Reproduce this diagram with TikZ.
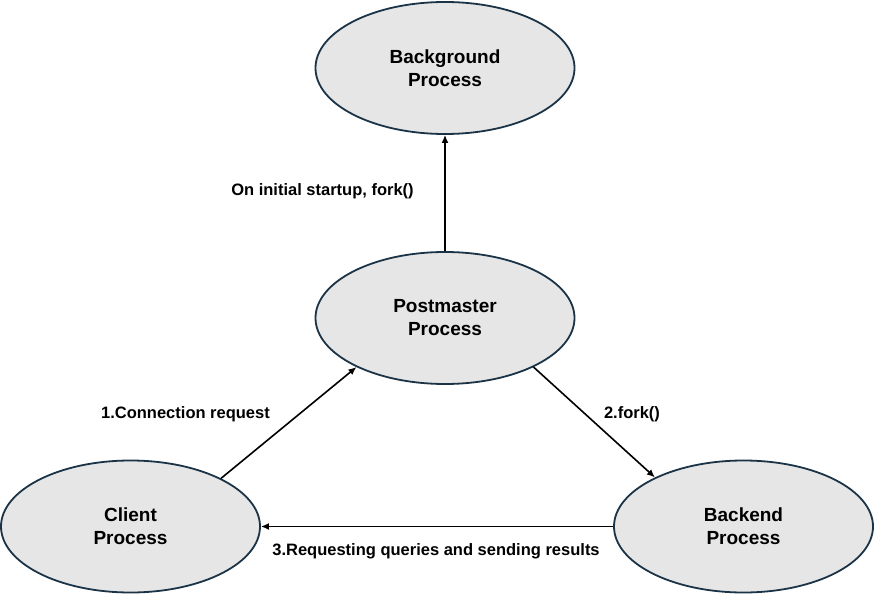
\documentclass[tikz,border=0pt]{standalone}
\usepackage{fontspec}
\setmainfont{Liberation Sans}
\usetikzlibrary{shapes.geometric,arrows.meta}
\definecolor{edgeblue}{HTML}{1B3346}
\definecolor{procfill}{HTML}{E6E6E6}
\tikzset{
  proc/.style={ellipse, draw=edgeblue, fill=procfill, line width=1.8pt,
    minimum width=259pt, minimum height=132pt, inner sep=0pt,
    align=center, font=\fontsize{19}{23}\selectfont\bfseries},
  conn/.style={line width=1.6pt, -{Latex[length=8pt,width=7pt]}},
  lbl/.style={font=\fontsize{16.5}{20}\selectfont\bfseries, inner sep=0pt}
}
\begin{document}
\begin{tikzpicture}[x=1pt,y=-1pt]
\useasboundingbox (0,0) rectangle (875,596);
\node[proc] (bg) at (445,68) {Background\\Process};
\node[proc] (pm) at (445,318) {Postmaster\\Process};
\node[proc] (cl) at (130.5,526.5) {Client\\Process};
\node[proc] (be) at (743.5,526.5) {Backend\\Process};
\draw[conn] (pm.north) -- (bg.south);
\draw[conn] (cl.28.5) -- (pm.209);
\draw[conn] (pm.331) -- (be.151);
\draw[conn] (be.west) -- (cl.east);
\node[lbl] (l0) at (322.5,191) {On initial startup, fork()};
\node[lbl] (l1) at (185.5,414) {1.Connection request};
\node[lbl] (l2) at (632,414) {2.fork()};
\node[lbl] (l3) at (436,551) {3.Requesting queries and sending results};
\end{tikzpicture}
\end{document}
